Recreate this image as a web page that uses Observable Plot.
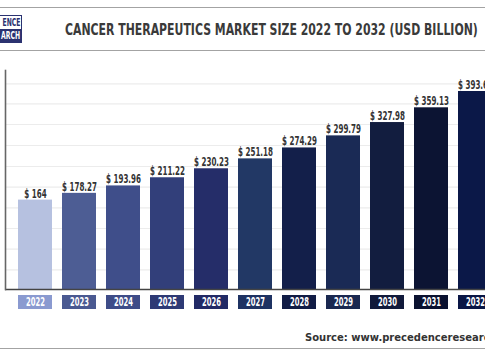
<!DOCTYPE html>
<html>
<head>
<meta charset="utf-8">
<script src="https://cdn.jsdelivr.net/npm/d3@7"></script>
<script src="https://cdn.jsdelivr.net/npm/@observablehq/plot@0.6"></script>
<style>
  html, body { margin: 0; padding: 0; background: #fff; overflow: hidden; width: 485px; height: 360px; }
  #wrap { position: relative; width: 485px; height: 360px; overflow: hidden; }
  .hline { position: absolute; left: 0; width: 485px; height: 1.5px; background: #a3a3a3; }
  #title { position: absolute; left: 65px; top: 21.5px; font: bold 16px "DejaVu Sans Condensed", sans-serif; color: #3a3a3a; white-space: nowrap; line-height: 16px; transform-origin: 0 0; }
  #logo { position: absolute; left: -1px; top: 15px; width: 23px; height: 28px; border: 1px solid #2b3270; box-sizing: border-box; overflow: hidden; }
  #logo .a, #logo .b { height: 13px; font: bold 10px "DejaVu Sans Condensed", sans-serif; line-height: 13px; white-space: nowrap; position: relative; }
  #logo .a { background: #fff; color: #2b3270; }
  #logo .b { background: #2b3270; color: #fff; }
  #logo span { position: absolute; right: 1px; transform-origin: 100% 50%; transform: scaleX(0.68); }
  #source { position: absolute; left: 305px; top: 332px; font: bold 10px "DejaVu Sans", sans-serif; color: #333; white-space: nowrap; line-height: 12px; }
  #chart { position: absolute; left: 0; top: 0; }
</style>
</head>
<body>
<div id="wrap">
  <div class="hline" style="top:6.5px"></div>
  <div class="hline" style="top:49.5px"></div>
  <div class="hline" style="top:347.5px"></div>
  <div id="logo"><div class="a"><span>ENCE</span></div><div class="b"><span>ARCH</span></div></div>
  <div id="title">CANCER THERAPEUTICS MARKET SIZE 2022 TO 2032 (USD BILLION)</div>
  <div id="chart"></div>
  <div id="source">Source: www.precedenceresearch.com</div>
</div>
<script>
const years = ["2022","2023","2024","2025","2026","2027","2028","2029","2030","2031","2032"];
const values = [164, 178.27, 193.96, 211.22, 230.23, 251.18, 274.29, 299.79, 327.98, 359.13, 393.61];
const barColors = ["#b6c1e0","#4d5d94","#3f4e8a","#323f7a","#252d69","#223865","#131f4a","#1a2a55","#121d3f","#0c1433","#0b1848"];
const boxColors = ["#8a9ad0","#4a5991","#3e4c88","#2e3a75","#222a66","#1e3262","#111c45","#1a2850","#111a3b","#0b1230","#0a1645"];
const gridTicks = [16.6, 60.2, 104, 147.7, 191.3, 235, 279.4, 323.8, 367.6, 409.9];
const yMin = -25, yMax = 438;

const data = years.map((y, i) => ({year: y, value: values[i], bar: barColors[i], box: boxColors[i], label: "$ " + values[i]}));

const chart = Plot.plot({
  width: 505,
  height: 360,
  marginLeft: 5,
  marginRight: 0,
  marginTop: 70,
  marginBottom: 71,
  style: {background: "transparent", overflow: "visible", maxWidth: "none"},
  x: {domain: years, padding: 0.235, paddingOuter: 0.24, axis: null},
  y: {domain: [yMin, yMax], axis: null},
  marks: [
    Plot.ruleY(gridTicks, {stroke: "#ececec", strokeWidth: 1.2}),
    Plot.barY(data, {x: "year", y1: yMin, y2: "value", fill: "bar"}),
    Plot.text(data, {x: "year", y: "value", text: "label", lineAnchor: "bottom", dy: -2.5, fill: "#333",
      fontFamily: "DejaVu Sans Condensed, sans-serif", fontWeight: "bold", fontSize: 12.6, className: "vlabel"}),
    Plot.ruleY([yMin], {stroke: "#444", strokeWidth: 1.6}),
    Plot.frame({anchor: "left", stroke: "#666", strokeWidth: 1.6}),
    Plot.barY(data, {x: "year", y1: yMin, y2: yMin, fill: "box", insetTop: 6, insetBottom: -20}),
    Plot.text(data, {x: "year", y: yMin, text: "year", dy: 13, fill: "#fff",
      fontFamily: "DejaVu Sans Condensed, sans-serif", fontWeight: "bold", fontSize: 12, className: "ylabel"})
  ]
});
chart.style.width = "505px";
document.getElementById("chart").appendChild(chart);

// condense glyphs horizontally (the reference uses a narrow display face)
function condense(sel, factor) {
  chart.querySelectorAll(sel + " text").forEach(t => {
    const w = t.getComputedTextLength();
    t.setAttribute("textLength", (w * factor).toFixed(2));
    t.setAttribute("lengthAdjust", "spacingAndGlyphs");
  });
}
condense(".vlabel", 0.63);
condense(".ylabel", 0.63);

const title = document.getElementById("title");
title.style.transform = `scaleX(${413 / title.offsetWidth})`;
</script>
</body>
</html>
